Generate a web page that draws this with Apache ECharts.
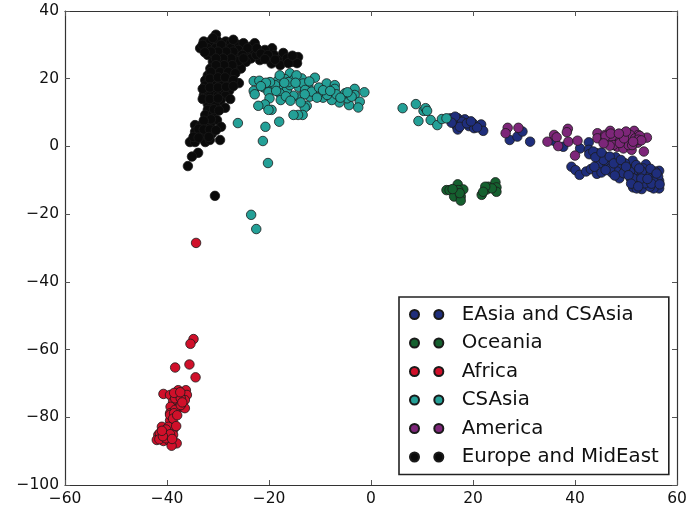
<!DOCTYPE html>
<html>
<head>
<meta charset="utf-8">
<style>html,body{margin:0;padding:0;background:#fff}#c{width:692px;height:507px}</style>
<script src="https://cdn.jsdelivr.net/npm/echarts@6/dist/echarts.min.js"></script>
</head>
<body>
<div id="c"></div>
<script>
const seriesNames = ['EAsia and CSAsia','Oceania','Africa','CSAsia','America','Europe and MidEast'];
const seriesColors = ['#1f2e7c','#15602f','#d0102a','#24a097','#7d2679','#0a0a0a'];
const xTicks = {min:-60,max:60,interval:20};
const yTicks = {min:-100,max:40,interval:20};

const eAsia = [[15.6,8.3],[17,8.3],[16.8,6],[17,5],[18.4,8],[17.8,7.3],[19.2,6],[20,6.8],[20.2,5.4],[21.4,6],[21.6,6.5],[22,4.6],[16,7.8],[16.5,8.8],[17.4,5.8],[18.8,6.8],[20.8,5.6],[15.8,7],[19.6,7.4],
[27.2,1.9],[28.7,2.9],[29.7,4.4],[31.2,1.4],[35.8,1.7],[37.7,-0.1],[41,-0.6],[42.7,1.2],[42.7,-1],[42.8,-2.3],[44.2,-2],[45.7,-2.8],[44.6,-4],[45,-5],[48,-3.2],[46.7,-4.2],[46.4,-5.7],[39.3,-6],[40.1,-7],[40.9,-8.4],[42.2,-7.4],[43.1,-6.7],[44.3,-8.1],[45.2,-7.7],[47.2,-7.7],[48,-6.5],[48.7,-9.4],[49.5,-6.7],[50.7,-6.7],[51.3,-4.2],[50.9,-9.4],[53.9,-5.3],[53.7,-8],[56.5,-7.2],[56.5,-10.2],[56.5,-12.4],[55.4,-12.4],[53.1,-12.6],[51.4,-12.1],[52.4,-10.4],[54.4,-10.4],[55.7,-9.4],[54.7,-8.4],[52.7,-8.4],[51.8,-7],[55.7,-7.4],[53.4,-6.5],[49.8,-5],[48.8,-5.5],[52.1,-10.9],[54.7,-11.9],[56.3,-8.9],[50.8,-7.4],[48.2,-7.4],[49.5,-7.9],[46.9,-6.5],[45.6,-4],[43.6,-1.5],[52.1,-12.4],[53.7,-10.9],[55.4,-10.4],[53.1,-7.4],[51.4,-9.4],
[44,-3.2],[45.2,-1.8],[46.8,-3],[47.6,-5],[49,-4],[50,-6],[52,-5.5],[50.5,-8.5],[52.6,-6.5],[54.8,-6.6],[56,-8],[55,-11],[53,-9.5],[56.6,-11.2],[51,-11],[47.8,-8.6],[46,-7],[43.8,-6],[54.2,-9.6],[52.4,-11.8]];
const oceania = [[14.8,-12.9],[15.4,-12.9],[17,-11.2],[16.5,-13.8],[17.8,-12.9],[16.3,-14.8],[17.6,-14.8],[17.6,-16],[18.1,-12.7],[17.1,-12.9],[17.4,-13.8],[16,-12.6],[21.7,-14.3],[22.7,-12.7],[23,-11.9],[24.4,-10.6],[24.6,-12.1],[24.6,-13.4],[23.7,-12.4],[22.4,-11.9],[22,-13.4]];
const africa = [[-34.3,-28.5],[-34.8,-56.9],[-35.4,-58.3],[-35.6,-64.4],[-38.4,-65.3],[-34.4,-68.2],[-40.7,-73.1],[-39.4,-73.4],[-38,-73.7],[-36.3,-72],[-37.8,-72],[-36.1,-73.4],[-36.5,-74.9],[-38.8,-75.4],[-37.8,-75.9],[-39.3,-76.9],[-37.8,-77.3],[-36.5,-77.3],[-39.4,-78.8],[-39.4,-81],[-41,-82.8],[-38.8,-83.7],[-40.4,-84.7],[-41.7,-85.2],[-38.8,-85.2],[-42,-86.7],[-40.7,-87],[-39.4,-87.2],[-38.1,-87.7],[-39.1,-88.4],[-41.4,-84.7],[-39.7,-82.8],[-41.5,-86.5],[-40.2,-86.2],[-38.4,-74.4],[-37.3,-74.4],[-38.4,-77.8],[-37.3,-76.4],[-39.4,-79.3],
[-38.6,-78.8],[-38.8,-80.4],[-40.2,-83.6],[-39.4,-85],[-40.8,-85.6],[-38.2,-82.6],[-37,-75.6],[-38,-79.4],[-38.6,-72.8],[-41,-84],[-39,-86.4],[-37.4,-72.6]];
const csAsia = [[-23,19.3],[-21.9,19.4],[-23,16.4],[-22.8,15.4],[-21,17.4],[-19.4,17.4],[-17.9,17.7],[-18.2,19.6],[-15.9,21.6],[-16.9,19.9],[-15.1,19.8],[-13.6,20.1],[-11,20.3],[-12.3,18],[-8.7,18.6],[-7.1,18.1],[-7.1,17],[-3.2,17],[-1.3,16],[-3.2,15.2],[-2.2,13.2],[-2.5,11.5],[-4.3,12.2],[-4.7,14.2],[-6.2,13],[-7.7,13.7],[-9.4,14.4],[-11,15.7],[-12,14.7],[-14.1,14.5],[-15.2,15],[-16.5,16.7],[-17.9,15.7],[-17.7,13.7],[-20.1,16],[-19.9,14.2],[-20.8,12.4],[-22.1,12],[-19.5,10.8],[-20.1,10.8],[-12.6,12],[-13,11.5],[-13.4,9.3],[-14.3,9.3],[-15.2,9.3],[-18,7.3],[-20.7,5.8],[-26.1,6.9],[-21.2,1.6],[-20.2,-4.9],[-23.5,-20.2],[-22.5,-24.4],[-14.2,17.6],[-13.3,18.6],[-18.8,18.1],[-15.9,18.1],[-14.6,21],[-12.9,16.7],[-11.6,16.2],[-8.6,15.2],[-6.8,15.4],[-5.1,15.7],[-3.8,14.7],[-17.9,21],
[-16.2,19],[-14.8,18.8],[-13,15.4],[-10.2,17.4],[-9.4,16.6],[-8,16.4],[-10.6,14.4],[-6,14.4],[-4.6,16],[-19.8,19],[-20.6,18.8],[-12.1,19.2],[-16.7,14.8],[-15.8,13.5],[-13.8,13],[-21.6,17.8],[-18.6,16.4],[-17,18.8],
[6.2,11.3],[8.8,12.5],[10.3,10.5],[10.7,11.3],[11,10.5],[9.3,7.5],[11.7,7.8],[13,6.3],[13.9,8.1],[14.8,8.3]];
const america = [[26.8,5.5],[28.9,5.5],[26.4,3.9],[38.6,5.2],[38.4,4.2],[35.9,3.4],[36.4,2.7],[34.6,1.4],[36.7,0.1],[38.7,1.4],[40.5,1.7],[40,-2.7],[44.4,3.9],[44.4,2.4],[46.9,4.6],[45.9,1.9],[47.2,1.2],[48.2,2.9],[49.7,3.9],[50.1,3.1],[51.6,4.6],[52.4,3.4],[54.1,2.6],[52.3,1.1],[50.8,1.7],[49.5,1.4],[48.3,-0.1],[49.5,-0.6],[51.1,-1],[53.5,-1.5],[46.5,1.4],[48.8,2.4],[47.2,2.9],[45.9,3.4],[50.8,3.4],[51.8,2.4],[47.5,0.4],[50.5,0.4],[52.7,3.1],
[46,3],[47,3.8],[48.8,1],[49.6,2.4],[51.2,0.4],[52.4,2],[46.8,0.2],[45.6,0.9],[53,1.8],[50,4.4],[48.6,3.8],[51.4,1.4]];
const europe = [[-30.4,33],[-32.8,31],[-31.5,31],[-30,31],[-28.5,31],[-27.5,30.5],[-26,30],[-25,30.5],[-23.5,29.5],[-33.5,29],[-32,29],[-30.5,29],[-29,29.5],[-27.5,29],[-26,28.5],[-24.5,28],[-23,28],[-22.8,30.5],[-19.4,29],[-20.8,28.5],[-21.8,25.5],[-23.5,26],[-22.5,27],[-19,27],[-18,25.5],[-17.2,27.6],[-16.5,26],[-15.5,25],[-14.3,26.4],[-14.5,24.6],[-17.8,24],[-19.5,24.5],
[-32,27],[-30.5,27],[-29,27],[-27.5,27],[-26,26.5],[-24.5,25],[-31,25],[-29.5,25],[-28,25],[-26.5,24.5],[-25.5,23],[-31.5,23],[-30,23],[-28.5,23],[-27,22.5],[-32,21],[-30.5,21],[-29,21],[-27.5,21],[-32.5,19.5],[-31,19.5],[-29.5,19.5],[-28,19.5],[-25.9,18.7],[-32.5,18],[-31,18],[-29.5,18],[-28,18],[-32,16.5],[-30.5,16.5],[-29,16.5],[-27.8,16.5],[-32.8,15],[-31.5,15],[-30,15],[-28.5,15],[-27.6,14],[-31,13.5],[-29.5,13.5],[-28.6,11.4],[-32,12.5],[-30.5,12],
[-32,10.8],[-32.5,9.3],[-31,9.5],[-30.2,7.8],[-29.4,5.8],[-34.5,6.3],[-33.5,6],[-32.5,6.3],[-31.5,6.5],[-34.5,4.3],[-33.5,4.3],[-32.2,4.3],[-31.2,3.8],[-35.5,1.3],[-34.5,1.3],[-33,2.5],[-32.5,1.3],[-31.6,1.9],[-29.6,1.9],[-33.9,-1.9],[-35.1,-3],[-35.9,-5.8],[-30.6,-14.6],
[-33,30],[-31,32],[-29.4,30],[-27,31.5],[-24.2,29],[-25.2,27],[-27,28],[-28.4,28],[-30,28],[-31.4,28],[-32.6,27.8],[-26,25.2],[-27.4,26],[-29,26],[-30.4,26],[-25,26],[-27.2,24],[-28.8,24],[-30.4,24],[-31.4,22],[-29.6,22],[-28,22],[-26.6,21.6],[-31.6,20],[-30,20.4],[-28.6,20.4],[-27,19.6],[-33,17],[-31.6,17.4],[-30,17.4],[-28.4,17.6],[-27,17.8],[-33,14],[-31.6,14],[-30,14.2],[-30.8,11],[-29.8,10.6],[-31.4,8],[-32.8,7.6],[-33.8,5.2],[-32.8,5],[-31.6,5],[-30.4,4.8],[-34.8,2.8],[-33.8,2.6],[-31.8,2.8],[-22.4,29],[-21.6,27.4],[-20.2,27],[-20.8,25.8],[-18.8,25.6],[-16.2,24.6],[-15.4,26.8]];
const seriesData = [eAsia,oceania,africa,csAsia,america,europe];

const twoDots = 'path://M0 5a5 5 0 1 0 10 0a5 5 0 1 0-10 0ZM27 5a5 5 0 1 0 10 0a5 5 0 1 0-10 0Z';
const font = 'DejaVu Sans';
const minus = v => String(v).replace('-', '\u2212');
function axis(type, ticks, position, labels) {
  return {
    type: 'value', position, min: ticks.min, max: ticks.max, interval: ticks.interval,
    splitLine: {show:false},
    axisLine: {show:true, onZero:false, lineStyle:{color:'#333',width:1.2}},
    axisTick: {show:true, inside:true, length:5, lineStyle:{color:'#555',width:1}},
    axisLabel: {show:labels, color:'#111', fontFamily:font, fontSize:15.5, margin:6, padding:type==='y'?[2,0,0,0]:0, formatter:minus, hideOverlap:false, showMinLabel:true, showMaxLabel:true}
  };
}
const chart = echarts.init(document.getElementById('c'), null, {renderer:'canvas'});
chart.setOption({
  animation:false,
  backgroundColor:'#fff',
  grid:{left:65,right:15,top:11,bottom:22,containLabel:false},
  xAxis:[axis('x',xTicks,'bottom',true),axis('x',xTicks,'top',false)],
  yAxis:[axis('y',yTicks,'left',true),axis('y',yTicks,'right',false)],
  legend:{
    orient:'vertical', left:399, top:297, selectedMode:false, icon:twoDots,
    itemWidth:36, itemHeight:9, itemGap:8.5, padding:[7.5,10,7.5,10],
    backgroundColor:'#fff', borderColor:'#222', borderWidth:1.6,
    textStyle:{fontFamily:font,fontSize:19.8,color:'#111',padding:[0,0,0,12]},
    data:seriesNames
  },
  series:seriesNames.map((name,i)=>({
    name, type:'scatter', data:seriesData[i], symbolSize:9.5, xAxisIndex:0, yAxisIndex:0,
    itemStyle:{color:seriesColors[i],opacity:1,borderColor:'#1a1a1a',borderWidth:0.8}
  }))
});
</script>
</body>
</html>
